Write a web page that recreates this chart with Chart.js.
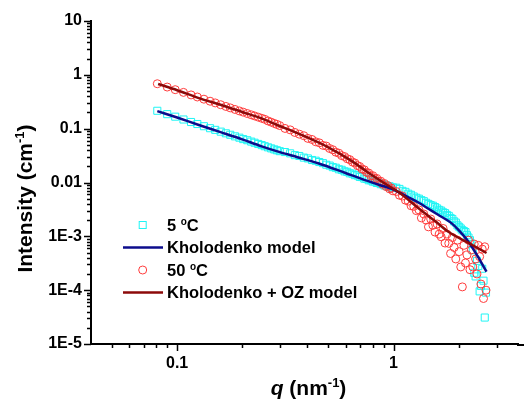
<!DOCTYPE html>
<html>
<head>
<meta charset="utf-8">
<script src="https://cdn.jsdelivr.net/npm/chart.js@4/dist/chart.umd.min.js"></script>
<style>
  body { margin: 0; background: #fff; }
  #wrap { width: 524px; height: 407px; }
</style>
</head>
<body>
<div id="wrap"><canvas id="chart" width="524" height="407"></canvas></div>
<script>
// measured scattering data, q in nm^-1 (shared by both temperatures)
const qData = [
  0.081, 0.090, 0.098, 0.107, 0.116, 0.124, 0.133, 0.142, 0.150, 0.159, 0.168, 0.176, 0.185,
  0.194, 0.202, 0.211, 0.220, 0.228, 0.237, 0.246, 0.254, 0.263, 0.272, 0.281, 0.289, 0.298,
  0.315, 0.333, 0.350, 0.367, 0.385, 0.402, 0.420, 0.437, 0.454, 0.472, 0.489, 0.507, 0.524,
  0.541, 0.559, 0.576, 0.594, 0.611, 0.628, 0.646, 0.663, 0.681, 0.698, 0.715, 0.733, 0.750,
  0.768, 0.785, 0.802, 0.820, 0.837, 0.855, 0.872, 0.889, 0.907, 0.924, 0.942, 0.959, 0.976, 0.994,
  1.03, 1.065, 1.10, 1.135, 1.17, 1.205, 1.24, 1.275, 1.31, 1.345, 1.38, 1.415, 1.45, 1.485,
  1.52, 1.555, 1.59, 1.625, 1.66, 1.695, 1.73, 1.765, 1.80, 1.835, 1.87, 1.905, 1.94, 1.975,
  2.01, 2.045, 2.08, 2.115, 2.15, 2.185, 2.22, 2.255, 2.29, 2.325, 2.36, 2.395, 2.43, 2.465,
  2.50, 2.535, 2.57, 2.605, 2.64, 2.675
];

// 5 °C intensities (cm^-1)
const iCold = [
  0.215, 0.186, 0.167, 0.148, 0.133, 0.122, 0.111, 0.102, 0.095, 0.088, 0.082, 0.077, 0.072,
  0.068, 0.064, 0.061, 0.0575, 0.0548, 0.052, 0.0495, 0.0472, 0.045, 0.043, 0.0412, 0.0397, 0.0382,
  0.0368, 0.0348, 0.0322, 0.0311, 0.0290, 0.0280, 0.0262, 0.0254, 0.0240, 0.0229, 0.0214, 0.0206, 0.0193,
  0.0188, 0.0176, 0.0172, 0.0161, 0.0158, 0.0148, 0.0146, 0.0137, 0.0135, 0.0127, 0.0126, 0.0118, 0.0117,
  0.0110, 0.0110, 0.0104, 0.0104, 0.0098, 0.0098, 0.0093, 0.0093, 0.0088, 0.0089, 0.0084, 0.0085, 0.0080, 0.0081,
  0.0080, 0.0076, 0.0070, 0.0067, 0.0062, 0.0059, 0.0055, 0.0052, 0.0050, 0.0047, 0.0045, 0.0042, 0.0040, 0.0038,
  0.0037, 0.0035, 0.0033, 0.0031, 0.0030, 0.0028, 0.0027, 0.0025, 0.0024, 0.0022, 0.0021, 0.0019, 0.0018, 0.0016,
  0.0015, 0.0014, 0.0013, 0.00125, 0.0012, 0.00105, 0.00095, 0.00085, 0.00072, 0.00055, 0.00021, 0.00018, 0.00035, 0.00028,
  0.000095, 0.00012, 0.00025, 0.00015, 0.000031, 0.00009
];

// 50 °C intensities (cm^-1)
const iHot = [
  0.683, 0.593, 0.530, 0.472, 0.4235, 0.3875, 0.353, 0.3236, 0.3009, 0.2784, 0.2587, 0.2432, 0.2276,
  0.2136, 0.2026, 0.1911, 0.1808, 0.1724, 0.1637, 0.1558, 0.1493, 0.1393, 0.132, 0.1253, 0.1198, 0.114,
  0.101, 0.095, 0.085, 0.079, 0.074, 0.066, 0.063, 0.057, 0.0545, 0.049, 0.0475, 0.0428, 0.0406,
  0.0366, 0.0350, 0.0316, 0.0303, 0.0276, 0.0266, 0.0240, 0.0230, 0.0206, 0.0198, 0.0178, 0.0172, 0.0154,
  0.0150, 0.0133, 0.0134, 0.0118, 0.0119, 0.0104, 0.0106, 0.0093, 0.0096, 0.0084, 0.0087, 0.0076, 0.0079, 0.0070,
  0.0068, 0.0058, 0.0056, 0.0047, 0.0045, 0.0037, 0.0036, 0.0030, 0.0031, 0.0022, 0.0026, 0.0020, 0.0015, 0.0021,
  0.0016, 0.0012, 0.0017, 0.0011, 0.00098, 0.0014, 0.00075, 0.0011, 0.00074, 0.00048, 0.00095, 0.00062, 0.00038, 0.00085,
  0.00052, 0.00027, 0.000115, 0.00068, 0.00032, 0.00045, 0.00085, 0.00024, 0.00056, 0.00027, 0.00072, 0.00038, 0.00020, 0.00068,
  0.00042, 0.00013, 0.00058, 0.00007, 0.00064, 0.00010
];

// model fits
const qKholodenko = [0.081, 0.1, 0.126, 0.16, 0.2, 0.244, 0.296, 0.36, 0.452, 0.6, 0.707, 0.855, 1.0, 1.15, 1.309, 1.45, 1.6, 1.858, 2.0, 2.226, 2.45, 2.69];
const iKholodenko = [0.212, 0.161, 0.117, 0.0853, 0.0632, 0.0475, 0.037, 0.0295, 0.0226, 0.0150, 0.0118, 0.0091, 0.0074, 0.0055, 0.0042, 0.00325, 0.00254, 0.00174, 0.0013, 0.00078, 0.000425, 0.00022];
const qKholodenkoOZ = [0.0817, 0.1, 0.126, 0.16, 0.2, 0.244, 0.29, 0.366, 0.497, 0.642, 0.769, 0.9, 1.0, 1.058, 1.309, 1.56, 1.8, 2.2, 2.69];
const iKholodenkoOZ = [0.675, 0.518, 0.37, 0.275, 0.204, 0.157, 0.117, 0.080, 0.0455, 0.025, 0.0150, 0.0099, 0.0076, 0.0066, 0.0033, 0.0019, 0.0012, 0.00077, 0.00049];

// axes
const xTickValues = [0.1, 1];
const xTickLabels = ['0.1', '1'];
const yTickValues = [1e-5, 1e-4, 1e-3, 0.01, 0.1, 1, 10];
const yTickLabels = ['1E-5', '1E-4', '1E-3', '0.01', '0.1', '1', '10'];

const legendLabels = ['5', 'Kholodenko model', '50', 'Kholodenko + OZ model'];

const FONT = '"Liberation Sans", Arial, sans-serif';
const CYAN = '#1ff5f5';
const PINK = '#ff3c3c';
const NAVY = '#0c0c8c';
const MAROON = '#8c0a0a';

const toPoints = (qs, is) => qs.map((q, i) => ({ x: q, y: is[i] }));

// draws a list of text runs one after another, returns total width
function drawRuns(ctx, runs, x, y, measureOnly) {
    let cx = x;
    runs.forEach(r => {
        ctx.font = r.font;
        if (!measureOnly) ctx.fillText(r.text, cx, y - (r.rise || 0));
        cx += ctx.measureText(r.text).width;
    });
    return cx - x;
}

// no extra room for overflowing tick labels, the plot box is fixed
const noPadding = s => {
    s.paddingLeft = 0;
    s.paddingRight = 0;
    s.paddingTop = 0;
    s.paddingBottom = 0;
};

const decorations = {
    id: 'decorations',
    afterDraw(chart) {
        const ctx = chart.ctx;
        const xs = chart.scales.x;
        const ys = chart.scales.y;
        const area = chart.chartArea;
        ctx.save();

        // x axis line runs on to the right edge of the figure
        ctx.strokeStyle = '#000';
        ctx.lineWidth = 2;
        ctx.beginPath();
        ctx.moveTo(area.right - 1, area.bottom + 1);
        ctx.lineTo(chart.width, area.bottom + 1);
        ctx.stroke();

        // tick marks (outside), long for decades, short for the rest
        ctx.lineWidth = 1.5;
        ctx.beginPath();
        for (let e = -2; e <= 0; e++) {
            for (let m = 1; m <= 9; m++) {
                const v = m * Math.pow(10, e);
                if (v <= xs.min || v >= xs.max) continue;
                const px = Math.round(xs.getPixelForValue(v)) + 0.5;
                const len = m === 1 ? 7 : 4;
                ctx.moveTo(px, area.bottom);
                ctx.lineTo(px, area.bottom + len);
            }
        }
        for (let e = -5; e <= 1; e++) {
            for (let m = 1; m <= 9; m++) {
                const v = m * Math.pow(10, e);
                if (v > 10.0001) continue;
                const py = Math.round(ys.getPixelForValue(v)) + 0.5;
                const len = m === 1 ? 7 : 4;
                ctx.moveTo(area.left, py);
                ctx.lineTo(area.left - len, py);
            }
        }
        ctx.stroke();

        ctx.fillStyle = '#000';
        ctx.textBaseline = 'alphabetic';
        const big = 'bold 21px ' + FONT;
        const sup = 'bold 13px ' + FONT;

        // x title: q (nm-1)
        const xRuns = [
            { text: 'q', font: 'italic bold 21px ' + FONT },
            { text: ' (nm', font: big },
            { text: '-1', font: sup, rise: 8 },
            { text: ')', font: big }
        ];
        const xw = drawRuns(ctx, xRuns, 0, 0, true);
        drawRuns(ctx, xRuns, 308.5 - xw / 2, 395);

        // y title: Intensity (cm-1)
        const yRuns = [
            { text: 'Intensity (cm', font: big },
            { text: '-1', font: sup, rise: 8 },
            { text: ')', font: big }
        ];
        const yw = drawRuns(ctx, yRuns, 0, 0, true);
        ctx.save();
        ctx.translate(32, 198.5);
        ctx.rotate(-Math.PI / 2);
        drawRuns(ctx, yRuns, -yw / 2, 0);
        ctx.restore();

        // legend inside the plot
        const lx = 142.7, tx = 167;
        const rows = [225, 247.5, 270, 292.5];
        const lf = 'bold 16.5px ' + FONT;
        const deg = 'bold 10px ' + FONT;

        ctx.lineWidth = 1;
        ctx.strokeStyle = CYAN;
        ctx.strokeRect(lx - 3.5, rows[0] - 3.5, 7, 7);
        ctx.strokeStyle = PINK;
        ctx.beginPath();
        ctx.arc(lx, rows[2], 4, 0, Math.PI * 2);
        ctx.stroke();

        ctx.lineWidth = 2.5;
        ctx.strokeStyle = NAVY;
        ctx.beginPath();
        ctx.moveTo(123, rows[1]);
        ctx.lineTo(163, rows[1]);
        ctx.stroke();
        ctx.strokeStyle = MAROON;
        ctx.beginPath();
        ctx.moveTo(123, rows[3]);
        ctx.lineTo(163, rows[3]);
        ctx.stroke();

        const degRuns = (t) => [
            { text: t + ' ', font: lf },
            { text: 'o', font: deg, rise: 6 },
            { text: 'C', font: lf }
        ];
        drawRuns(ctx, degRuns(legendLabels[0]), tx, rows[0] + 5.8);
        drawRuns(ctx, [{ text: legendLabels[1], font: lf }], tx, rows[1] + 5.8);
        drawRuns(ctx, degRuns(legendLabels[2]), tx, rows[2] + 5.8);
        drawRuns(ctx, [{ text: legendLabels[3], font: lf }], tx, rows[3] + 5.8);

        ctx.restore();
    }
};

new Chart(document.getElementById('chart'), {
    type: 'scatter',
    data: {
        datasets: [
            {
                label: '5 °C',
                data: toPoints(qData, iCold),
                pointStyle: 'rect',
                pointRadius: 5,
                pointBorderWidth: 1,
                pointBorderColor: CYAN,
                pointBackgroundColor: 'rgba(0,0,0,0)',
                order: 4
            },
            {
                label: '50 °C',
                data: toPoints(qData, iHot),
                pointStyle: 'circle',
                pointRadius: 4,
                pointBorderWidth: 1,
                pointBorderColor: PINK,
                pointBackgroundColor: 'rgba(0,0,0,0)',
                order: 3
            },
            {
                label: 'Kholodenko model',
                data: toPoints(qKholodenko, iKholodenko),
                showLine: true,
                pointRadius: 0,
                borderColor: NAVY,
                borderWidth: 2.5,
                cubicInterpolationMode: 'monotone',
                order: 2
            },
            {
                label: 'Kholodenko + OZ model',
                data: toPoints(qKholodenkoOZ, iKholodenkoOZ),
                showLine: true,
                pointRadius: 0,
                borderColor: MAROON,
                borderWidth: 2.5,
                cubicInterpolationMode: 'monotone',
                order: 1
            }
        ]
    },
    options: {
        responsive: false,
        devicePixelRatio: 1,
        animation: false,
        layout: { padding: { top: 21, right: 0, bottom: 0, left: 0 } },
        plugins: {
            legend: { display: false },
            tooltip: { enabled: false }
        },
        scales: {
            x: {
                type: 'logarithmic',
                // the scale stops 5px short of the edge, so max is trimmed to keep the decades in place
                min: 0.04,
                max: 3.76,
                afterFit: s => { s.height = 63; noPadding(s); },
                afterBuildTicks: s => { s.ticks = xTickValues.map(v => ({ value: v })); },
                grid: { display: false, drawTicks: true, tickLength: 7 },
                border: { display: true, color: '#000', width: 2 },
                ticks: {
                    autoSkip: false,
                    maxRotation: 0,
                    padding: 3,
                    color: '#000',
                    font: { family: FONT, size: 16, weight: 'bold' },
                    callback: (v, i) => xTickLabels[i]
                }
            },
            y: {
                type: 'logarithmic',
                min: 1e-5,
                max: 10,
                afterFit: s => { s.width = 91; noPadding(s); },
                afterBuildTicks: s => { s.ticks = yTickValues.map(v => ({ value: v })); },
                grid: { display: false, drawTicks: true, tickLength: 7 },
                border: { display: true, color: '#000', width: 2 },
                ticks: {
                    autoSkip: false,
                    padding: 2,
                    color: '#000',
                    font: { family: FONT, size: 16, weight: 'bold' },
                    callback: (v, i) => yTickLabels[i]
                }
            }
        }
    },
    plugins: [decorations]
});
</script>
</body>
</html>
